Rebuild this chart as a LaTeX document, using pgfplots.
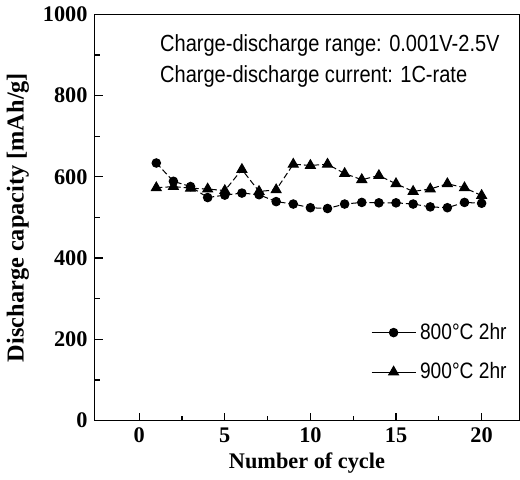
\documentclass[border=0pt]{standalone}
\usepackage{pgfplots}
\pgfplotsset{compat=1.18}
\usepackage{fontspec}
\setmainfont{Liberation Serif}
\newfontfamily\narrow[FakeStretch=0.86]{Liberation Sans}
\begin{document}
\begin{tikzpicture}
\begin{axis}[
  scale only axis,
  width=209.5pt, height=200.5pt,
  xmin=-2.6, xmax=22.2, ymin=0, ymax=1000,
  xtick={0,5,10,15,20}, ytick={0,200,400,600,800,1000},
  minor x tick num=1, minor y tick num=1,
  tick align=inside, xtick pos=lower, ytick pos=left,
  major tick length=4pt, minor tick length=2.5pt,
  tick style={black, line width=0.6pt},
  axis line style={line width=0.7pt},
  ticklabel style={font=\bfseries\fontsize{11}{12}\selectfont},
  /pgf/number format/assume math mode=true,
  /pgf/number format/1000 sep={},
  scaled ticks=false,
  xlabel={\bfseries Number of cycle},
  ylabel={\bfseries Discharge capacity [mAh/g]},
  label style={font=\bfseries\fontsize{12}{13}\selectfont},
  xlabel style={yshift=2pt, font=\bfseries\fontsize{11}{12}\selectfont},
  legend style={draw=none, fill=none, at={(0.995,0.075)}, anchor=south east,
    font=\narrow\fontsize{11}{12}\selectfont, row sep=6pt},
  legend cell align=left,
  legend image code/.code={\draw[mark repeat=2, mark phase=2, #1]
    plot coordinates {(0cm,0cm) (0.38cm,0cm) (0.76cm,0cm)};},
  legend image post style={solid},
]
\addplot[black, dashed, dash pattern=on 3pt off 1.5pt, line width=0.5pt,
  mark=*, mark size=2.1pt, mark options={solid}] coordinates {
  (1,634) (2,589) (3,576) (4,549) (5,555) (6,560) (7,556) (8,539) (9,533) (10,524)
  (11,522) (12,533) (13,537) (14,536) (15,536) (16,533) (17,526) (18,524) (19,537) (20,535)
};
\addlegendentry{800°C 2hr}
\addplot[black, dashed, dash pattern=on 3pt off 1.5pt, line width=0.5pt,
  mark=triangle*, mark size=2.8pt, mark options={solid}] coordinates {
  (1,573) (2,576) (3,572) (4,570) (5,566) (6,618) (7,564) (8,568) (9,631) (10,628)
  (11,631) (12,608) (13,593) (14,603) (15,583) (16,564) (17,570) (18,583) (19,573) (20,554)
};
\addlegendentry{900°C 2hr}
\node[anchor=north west, align=left, inner sep=0pt,
  font=\narrow\fontsize{11.5}{15}\selectfont]
  at (axis cs:1.2,950) {Charge-discharge range: 0.001V-2.5V\\Charge-discharge current: 1C-rate};
\end{axis}
\end{tikzpicture}
\end{document}
